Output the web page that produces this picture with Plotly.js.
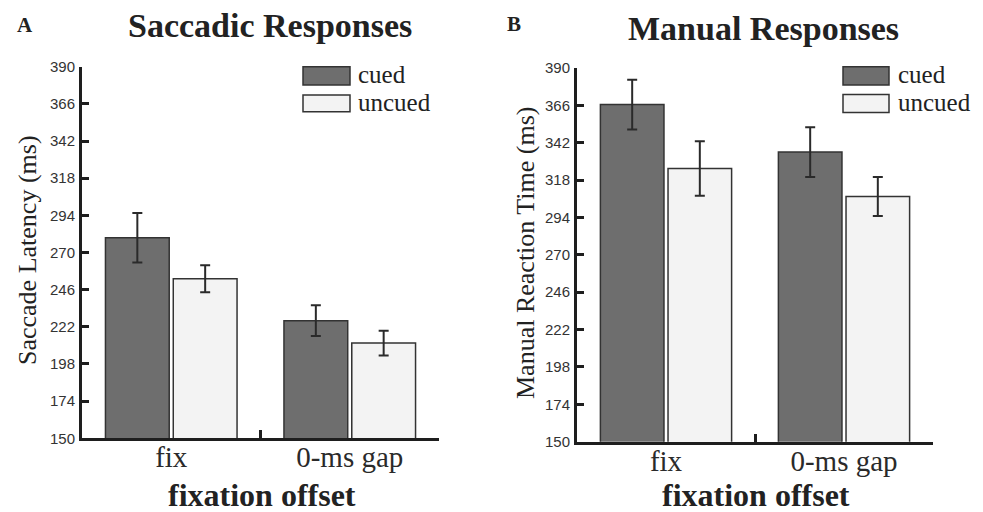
<!DOCTYPE html>
<html>
<head>
<meta charset="utf-8">
<script src="https://cdn.plot.ly/plotly-3.0.1.min.js"></script>
<style>html,body{margin:0;padding:0;background:#fff;}#chart{width:983px;height:512px;}</style>
</head>
<body>
<div id="chart"></div>
<script>
// ---- data ----
const categories = ["fix", "0-ms gap"];
const seriesNames = ["cued", "uncued"];
// Panel A: Saccadic Responses (Saccade Latency, ms)
const saccCued = [279.5, 226];
const saccCuedErr = [16, 10];
const saccUncued = [253, 211.5];
const saccUncuedErr = [8.7, 8];
// Panel B: Manual Responses (Manual Reaction Time, ms)
const manCued = [366.5, 336];
const manCuedErr = [16, 16];
const manUncued = [325.5, 307.5];
const manUncuedErr = [17.5, 12.5];
const yTicks = [150, 174, 198, 222, 246, 270, 294, 318, 342, 366, 390];

// ---- styles ----
const W = 983, H = 512;
const px = v => v / W;
const py = v => 1 - v / H;
const cuedColor = "#6e6e6e";
const uncuedColor = "#f3f3f3";
const edge = "#333333";
const axisColor = "#1e1e1e";
const serif = "Liberation Serif, Times New Roman, serif";
const sans = "Liberation Sans, Arial, sans-serif";

function bar(name, y, err, color, xa, ya) {
  return {
    type: "bar", name: name, x: categories, y: y,
    xaxis: xa, yaxis: ya, showlegend: false,
    marker: {color: color, line: {color: edge, width: 1.5}},
    error_y: {type: "data", array: err, visible: true, color: "#2a2a2a", thickness: 2, width: 5}
  };
}

const traces = [
  bar(seriesNames[0], saccCued, saccCuedErr, cuedColor, "x", "y"),
  bar(seriesNames[1], saccUncued, saccUncuedErr, uncuedColor, "x", "y"),
  bar(seriesNames[0], manCued, manCuedErr, cuedColor, "x2", "y2"),
  bar(seriesNames[1], manUncued, manUncuedErr, uncuedColor, "x2", "y2")
];

function xax(domain, anchor) {
  return {
    domain: domain, anchor: anchor, type: "category", range: [-0.5, 1.5],
    tickson: "boundaries", ticks: "inside", ticklen: 8, tickwidth: 3, tickcolor: axisColor,
    showline: true, linewidth: 3, linecolor: axisColor, showgrid: false, zeroline: false,
    tickfont: {family: serif, size: 29, color: "#2a2a2a"}, ticklabelstandoff: -9, fixedrange: true
  };
}
function yax(domain, anchor) {
  return {
    domain: domain, anchor: anchor, range: [150, 390], tickmode: "array", tickvals: yTicks,
    ticktext: yTicks.map(String),
    ticks: "inside", ticklen: 7, tickwidth: 3, tickcolor: axisColor,
    showline: true, linewidth: 3, linecolor: axisColor, showgrid: false, zeroline: false,
    tickfont: {family: sans, size: 15, color: "#333"}, ticklabelstandoff: 1, fixedrange: true
  };
}

const shapes = [];
const annotations = [];
function legend(x0, x1, rows, textX) {
  rows.forEach((r, i) => {
    shapes.push({type: "rect", xref: "paper", yref: "paper",
      x0: px(x0), x1: px(x1), y0: py(r.y1), y1: py(r.y0),
      fillcolor: r.color, line: {color: edge, width: 1.5}});
    annotations.push({xref: "paper", yref: "paper", x: px(textX), y: py((r.y0 + r.y1) / 2 - 1),
      xanchor: "left", yanchor: "middle", showarrow: false, text: seriesNames[i],
      font: {family: serif, size: 25, color: "#222"}});
  });
}
legend(303, 350, [{y0: 66.7, y1: 85, color: cuedColor}, {y0: 95, y1: 111.7, color: uncuedColor}], 356);
legend(843, 889, [{y0: 66.7, y1: 85, color: cuedColor}, {y0: 94.5, y1: 112.5, color: uncuedColor}], 896);

function txt(t, x, y, size, bold, angle) {
  annotations.push({xref: "paper", yref: "paper", x: px(x), y: py(y), xanchor: "center", yanchor: "middle",
    showarrow: false, text: bold ? "<b>" + t + "</b>" : t, textangle: angle || 0,
    font: {family: serif, size: size, color: "#222"}});
}
txt("Saccadic Responses", 270, 25, 34, true);
txt("Manual Responses", 763, 28, 34, true);
txt("A", 24.5, 25, 21, true);
txt("B", 514, 24, 21, true);
txt("fixation offset", 262, 495, 32, true);
txt("fixation offset", 756, 495, 32, true);
txt("Saccade Latency (ms)", 27, 250, 26, false, -90);
txt("Manual Reaction Time (ms)", 525, 253, 26, false, -90);

const layout = {
  width: W, height: H, margin: {l: 0, r: 0, t: 0, b: 0},
  paper_bgcolor: "#fff", plot_bgcolor: "rgba(0,0,0,0)",
  barmode: "group", bargap: 0.24, bargroupgap: 0.06, showlegend: false,
  xaxis: xax([px(82), px(439)], "y"),
  yaxis: yax([1 - 438.3 / H, 1 - 66.7 / H], "x"),
  xaxis2: xax([px(577), px(933)], "y2"),
  yaxis2: yax([1 - 441.7 / H, 1 - 68 / H], "x2"),
  shapes: shapes, annotations: annotations
};

Plotly.newPlot("chart", traces, layout, {displayModeBar: false, staticPlot: true});
</script>
</body>
</html>
